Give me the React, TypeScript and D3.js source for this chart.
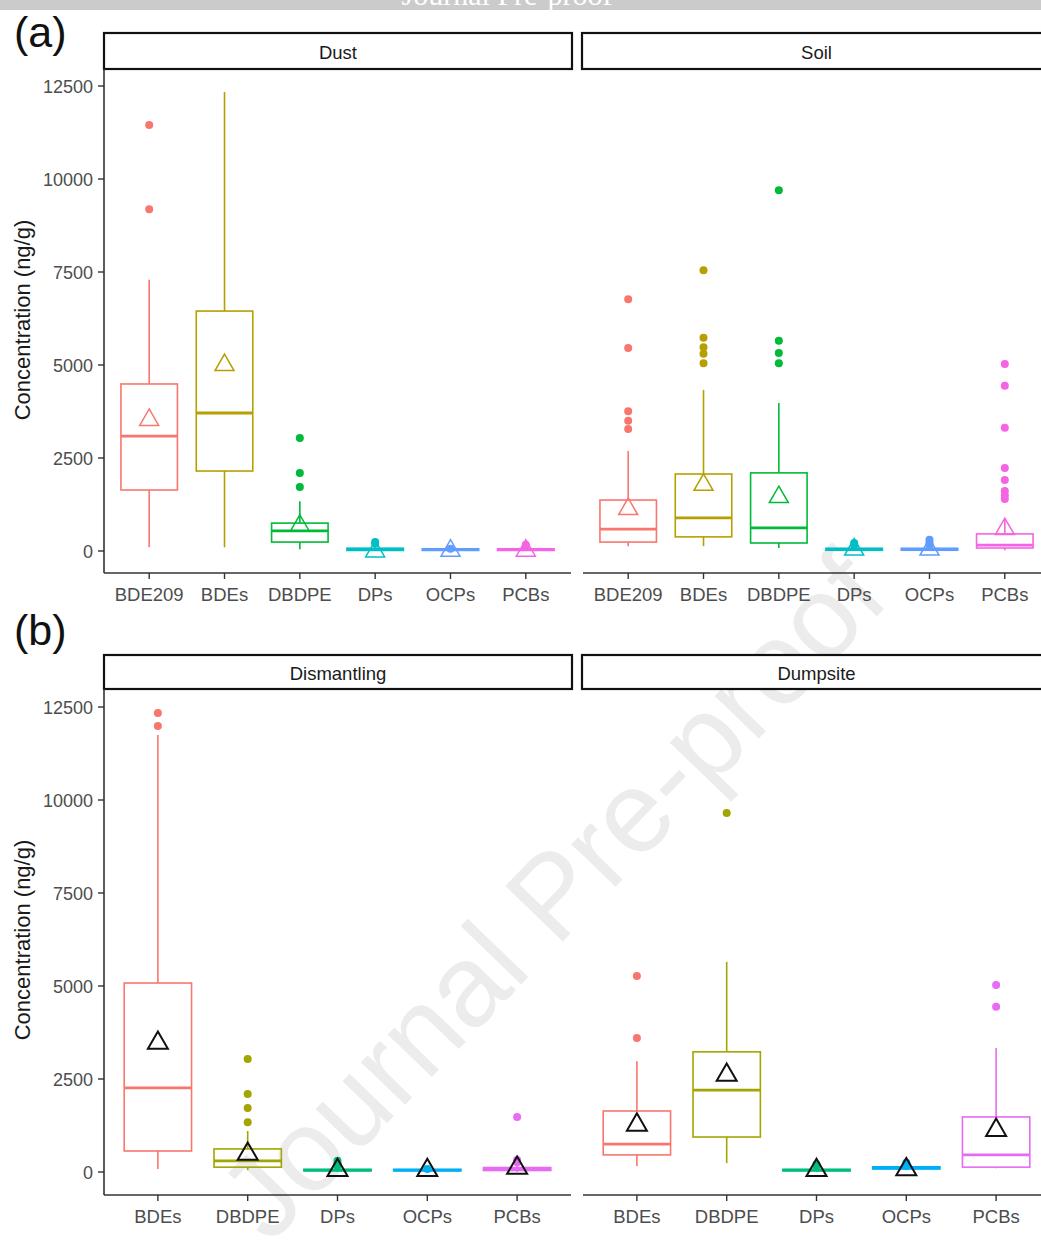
import React from "react";
import * as d3 from "d3";

// ---------- data ----------
const CATS_A = ["BDE209", "BDEs", "DBDPE", "DPs", "OCPs", "PCBs"];
const CATS_B = ["BDEs", "DBDPE", "DPs", "OCPs", "PCBs"];
const COLORS_A = ["#F8766D", "#B79F00", "#00BA38", "#00BFC4", "#619CFF", "#F564E3"];
const COLORS_B = ["#F8766D", "#A3A500", "#00BF7D", "#00B0F6", "#E76BF3"];
const Y_TICKS = [0, 2500, 5000, 7500, 10000, 12500];

// Dust
const DUST_LO = [100, 100, 50, 0, 0, 0];
const DUST_Q1 = [1640, 2150, 240, 15, 15, 15];
const DUST_MED = [3090, 3710, 540, 45, 40, 40];
const DUST_Q3 = [4490, 6450, 750, 75, 60, 60];
const DUST_HI = [7290, 12340, 1340, 140, 100, 100];
const DUST_MEAN = [3575, 5050, 730, 40, 60, 60];
const DUST_OUT = [[9190, 11450], [], [1720, 2100, 3040], [200, 240], [60], [130, 170]];

// Soil
const SOIL_LO = [130, 130, 80, 0, 0, 20];
const SOIL_Q1 = [240, 380, 215, 20, 20, 80];
const SOIL_MED = [590, 890, 620, 50, 50, 160];
const SOIL_Q3 = [1370, 2070, 2100, 70, 70, 460];
const SOIL_HI = [2690, 4330, 3980, 120, 120, 880];
const SOIL_MEAN = [1180, 1830, 1500, 90, 90, 640];
const SOIL_OUT = [
  [3280, 3500, 3760, 5460, 6770],
  [5050, 5300, 5480, 5730, 7550],
  [5050, 5320, 5650, 9700],
  [160, 215],
  [160, 220, 300],
  [1400, 1500, 1610, 1910, 2230, 3310, 4440, 5030],
];

// Dismantling
const DIS_LO = [80, 50, 0, 0, 0];
const DIS_Q1 = [565, 130, 30, 30, 40];
const DIS_MED = [2260, 300, 50, 50, 80];
const DIS_Q3 = [5080, 620, 70, 70, 120];
const DIS_HI = [11750, 1100, 120, 100, 200];
const DIS_MEAN = [3520, 540, 100, 100, 160];
const DIS_OUT = [[11990, 12340], [1340, 1720, 2100, 3040], [160, 220, 300], [80], [260, 320, 1480]];

// Dumpsite
const DUMP_LO = [160, 240, 0, 50, 100];
const DUMP_Q1 = [460, 940, 30, 80, 130];
const DUMP_MED = [750, 2200, 50, 110, 460];
const DUMP_Q3 = [1640, 3230, 70, 140, 1480];
const DUMP_HI = [2980, 5650, 100, 200, 3330];
const DUMP_MEAN = [1320, 2660, 100, 120, 1180];
const DUMP_OUT = [[3600, 5270], [9650], [150, 200], [200, 250], [4440, 5030]];

const FONT = "'Liberation Sans', Arial, sans-serif";

function buildRows(cats, lo, q1, med, q3, hi, mean, out) {
  return cats.map((c, i) => ({ cat: c, lo: lo[i], q1: q1[i], med: med[i], q3: q3[i], hi: hi[i], mean: mean[i], out: out[i] }));
}

const DUST = buildRows(CATS_A, DUST_LO, DUST_Q1, DUST_MED, DUST_Q3, DUST_HI, DUST_MEAN, DUST_OUT);
const SOIL = buildRows(CATS_A, SOIL_LO, SOIL_Q1, SOIL_MED, SOIL_Q3, SOIL_HI, SOIL_MEAN, SOIL_OUT);
const DIS = buildRows(CATS_B, DIS_LO, DIS_Q1, DIS_MED, DIS_Q3, DIS_HI, DIS_MEAN, DIS_OUT);
const DUMP = buildRows(CATS_B, DUMP_LO, DUMP_Q1, DUMP_MED, DUMP_Q3, DUMP_HI, DUMP_MEAN, DUMP_OUT);

const PANEL_W = 467;

function triPath(cx, cy, w) {
  const h = w * 0.866;
  return `M${cx},${cy - h * 0.55} L${cx + w / 2},${cy + h * 0.45} L${cx - w / 2},${cy + h * 0.45} Z`;
}

function Facet({ x0, stripTop, stripBottom, panelBottom, y, rows, colors, meanBlack, showY, label }) {
  const cats = rows.map((r) => r.cat);
  const x = d3.scalePoint().domain(cats).range([x0, x0 + PANEL_W]).padding(0.6);
  const bw = x.step() * 0.75;
  const stripX = showY ? x0 : x0 - 1;
  const stripW = showY ? PANEL_W + 1 : PANEL_W + 10;
  const labelX = showY ? stripX + stripW / 2 : x0 + PANEL_W / 2;
  return (
    <g>
      <rect x={stripX} y={stripTop} width={stripW} height={stripBottom - stripTop} fill="#fff" stroke="#111" strokeWidth={2.2} />
      <text x={labelX} y={(stripTop + stripBottom) / 2 + 7.5} textAnchor="middle" fontFamily={FONT} fontSize={18.5} fill="#1a1a1a">{label}</text>
      {/* axes */}
      <line x1={x0} x2={x0 + PANEL_W} y1={panelBottom} y2={panelBottom} stroke="#333" strokeWidth={1.6} />
      {showY && <line x1={x0} x2={x0} y1={stripBottom} y2={panelBottom} stroke="#333" strokeWidth={1.6} />}
      {showY && Y_TICKS.map((t) => (
        <g key={t}>
          <line x1={x0 - 6} x2={x0} y1={y(t)} y2={y(t)} stroke="#333" strokeWidth={1.4} />
          <text x={x0 - 11} y={y(t) + 6.5} textAnchor="end" fontFamily={FONT} fontSize={18} fill="#4d4d4d">{t}</text>
        </g>
      ))}
      {cats.map((c) => (
        <g key={c}>
          <line x1={x(c)} x2={x(c)} y1={panelBottom} y2={panelBottom + 6} stroke="#333" strokeWidth={1.4} />
          <text x={x(c)} y={panelBottom + 28} textAnchor="middle" fontFamily={FONT} fontSize={18.5} fill="#4d4d4d">{c}</text>
        </g>
      ))}
      {/* boxes */}
      {rows.map((r, i) => {
        const cx = x(r.cat);
        const col = colors[i];
        return (
          <g key={r.cat}>
            <line x1={cx} x2={cx} y1={y(r.hi)} y2={y(r.q3)} stroke={col} strokeWidth={1.6} />
            <line x1={cx} x2={cx} y1={y(r.q1)} y2={y(r.lo)} stroke={col} strokeWidth={1.6} />
            <rect x={cx - bw / 2} y={y(r.q3)} width={bw} height={Math.max(0.1, y(r.q1) - y(r.q3))} fill="#fff" fillOpacity={0} stroke={col} strokeWidth={1.6} />
            <line x1={cx - bw / 2} x2={cx + bw / 2} y1={y(r.med)} y2={y(r.med)} stroke={col} strokeWidth={2.8} />
            {r.out.map((o, k) => (
              <circle key={k} cx={cx} cy={y(o)} r={4} fill={col} />
            ))}
            <path d={triPath(cx, y(r.mean), meanBlack ? 20 : 19)} fill="none" stroke={meanBlack ? "#111" : col} strokeWidth={meanBlack ? 2 : 1.5} strokeLinejoin="miter" />
          </g>
        );
      })}
    </g>
  );
}

export default function App() {
  const yA = d3.scaleLinear().domain([0, 12500]).range([551, 86]);
  const yB = d3.scaleLinear().domain([0, 12500]).range([1172, 707]);
  return (
    <svg width={1041} height={1256} style={{ position: "absolute", left: 0, top: 0, background: "#fff" }}>
      <defs>
        <clipPath id="banner">
          <rect x={0} y={0} width={1041} height={10} />
        </clipPath>
      </defs>
      <rect x={0} y={0} width={1041} height={1256} fill="#fff" />
      {/* watermark */}
      <text x={552} y={895} textAnchor="middle" fontFamily={FONT} fontSize={116} fill="#ececec" transform="rotate(-46 552 895)" dy={40}>Journal Pre-proof</text>
      {/* banner */}
      <rect x={0} y={0} width={1041} height={10} fill="#cbcbcb" />
      <g clipPath="url(#banner)">
        <text x={507} y={5} textAnchor="middle" fontFamily="'Liberation Serif', 'Times New Roman', serif" fontSize={30} fill="#fff">Journal Pre-proof</text>
      </g>

      <text x={14} y={47} fontFamily={FONT} fontSize={43} fill="#111">(a)</text>
      <text x={14} y={645} fontFamily={FONT} fontSize={43} fill="#111">(b)</text>

      <text transform="translate(30,320) rotate(-90)" textAnchor="middle" fontFamily={FONT} fontSize={22} fill="#1a1a1a">Concentration (ng/g)</text>
      <text transform="translate(30,940) rotate(-90)" textAnchor="middle" fontFamily={FONT} fontSize={22} fill="#1a1a1a">Concentration (ng/g)</text>

      <Facet x0={104} stripTop={33} stripBottom={69} panelBottom={573} y={yA} rows={DUST} colors={COLORS_A} meanBlack={false} showY label="Dust" />
      <Facet x0={583} stripTop={33} stripBottom={69} panelBottom={573} y={yA} rows={SOIL} colors={COLORS_A} meanBlack={false} showY={false} label="Soil" />
      <Facet x0={104} stripTop={655} stripBottom={689} panelBottom={1195} y={yB} rows={DIS} colors={COLORS_B} meanBlack showY label="Dismantling" />
      <Facet x0={583} stripTop={655} stripBottom={689} panelBottom={1195} y={yB} rows={DUMP} colors={COLORS_B} meanBlack showY={false} label="Dumpsite" />
    </svg>
  );
}
